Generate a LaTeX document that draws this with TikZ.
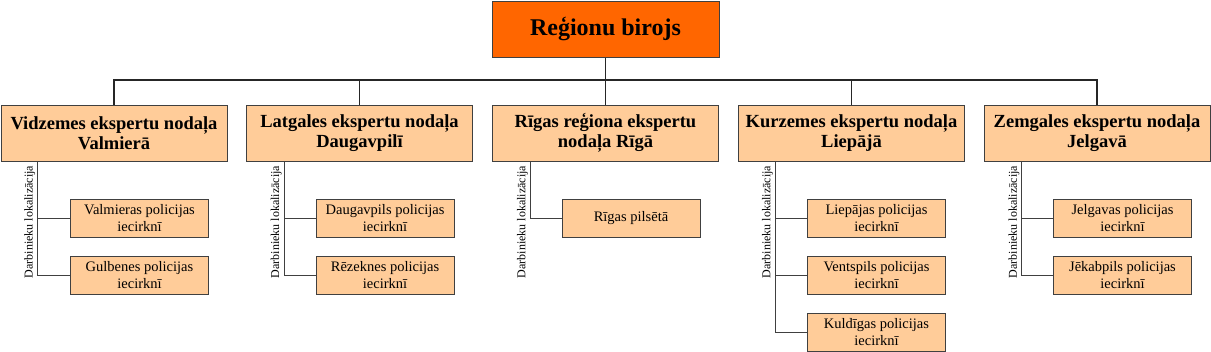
\documentclass[tikz,border=0pt]{standalone}
\usepackage{fontspec}
\setmainfont{Liberation Serif}
\usetikzlibrary{positioning}

\begin{document}
\begin{tikzpicture}[x=1pt, y=-1pt]
  \definecolor{biroFill}{RGB}{255,102,0}
  \definecolor{nodFill}{RGB}{255,204,153}
  \colorlet{edge}{black!75}
  \tikzset{
    biroBox/.style={draw=edge, line width=1pt, fill=biroFill, minimum width=227pt,
      minimum height=56pt, inner sep=0pt, font=\fontsize{24}{28}\selectfont\bfseries},
    nodBox/.style={draw=edge, line width=1pt, fill=nodFill, minimum width=226pt,
      minimum height=56pt, inner sep=0pt, align=center,
      font=\fontsize{18.5}{20.5}\selectfont\bfseries},
    iecBox/.style={draw=edge, line width=0.9pt, fill=nodFill, minimum width=138pt,
      minimum height=38pt, inner sep=0pt, align=center,
      font=\fontsize{14.5}{17.5}\selectfont},
    lokal/.style={rotate=90, anchor=south, inner sep=0.5pt,
      font=\fontsize{12}{14}\selectfont},
    bus/.style={line width=1.5pt, black!85},
    link/.style={line width=0.9pt, edge},
  }
  \useasboundingbox (0,0) rectangle (1211,351);
  \def\lokTxt{Darbinieku lokalizācija}

  %--- Top ---
  \node[biroBox] (biro) at (605.5,29) {Reģionu birojs};
  \coordinate (bus) at (0,80);

  %--- Regional departments ---
  \node[nodBox] (vidz) at (114,133)   {Vidzemes ekspertu nodaļa\\Valmierā};
  \node[nodBox] (latg) at (359.5,133) {Latgales ekspertu nodaļa\\Daugavpilī};
  \node[nodBox] (riga) at (605.5,133) {Rīgas reģiona ekspertu\\nodaļa Rīgā};
  \node[nodBox] (kurz) at (851.5,133) {Kurzemes ekspertu nodaļa\\Liepājā};
  \node[nodBox] (zemg) at (1097,133)  {Zemgales ekspertu nodaļa\\Jelgavā};

  %--- Bus ---
  \draw[bus] (biro.south) -- (biro.south |- bus);
  \draw[bus] (vidz.north) |- (zemg.north |- bus) -- (zemg.north);
  \foreach \d in {latg,riga,kurz} { \draw[bus] (\d.north) -- (\d.north |- bus); }

  %--- Vidzemes ---
  \coordinate (vidzL) at ([xshift=37pt]vidz.south west);
  \node[iecBox] (valm) at (139.5,218) {Valmieras policijas\\iecirknī};
  \node[iecBox] (gulb) at (139.5,275) {Gulbenes policijas\\iecirknī};
  \draw[link] (vidzL) |- (gulb.west);
  \draw[link] (valm.west) -- (valm.west -| vidzL);
  \node[lokal] (vidzLok) at ([xshift=-1.5pt]vidzL |- 0,222) {\lokTxt};

  %--- Latgales ---
  \coordinate (latgL) at ([xshift=38pt]latg.south west);
  \node[iecBox] (dpil) at (385,218) {Daugavpils policijas\\iecirknī};
  \node[iecBox] (reze) at (385,275) {Rēzeknes policijas\\iecirknī};
  \draw[link] (latgL) |- (reze.west);
  \draw[link] (dpil.west) -- (dpil.west -| latgL);
  \node[lokal] (latgLok) at ([xshift=-1.5pt]latgL |- 0,222) {\lokTxt};

  %--- Rīgas ---
  \coordinate (rigaL) at ([xshift=38pt]riga.south west);
  \node[iecBox] (rpil) at (631,218) {Rīgas pilsētā};
  \draw[link] (rigaL) |- (rpil.west);
  \node[lokal] (rigaLok) at ([xshift=-1.5pt]rigaL |- 0,222) {\lokTxt};

  %--- Kurzemes ---
  \coordinate (kurzL) at ([xshift=37pt]kurz.south west);
  \node[iecBox] (liep) at (876.5,218) {Liepājas policijas\\iecirknī};
  \node[iecBox] (vent) at (876.5,275) {Ventspils policijas\\iecirknī};
  \node[iecBox] (kuld) at (876.5,332) {Kuldīgas policijas\\iecirknī};
  \draw[link] (kurzL) |- (kuld.west);
  \foreach \c in {liep,vent} { \draw[link] (\c.west) -- (\c.west -| kurzL); }
  \node[lokal] (kurzLok) at ([xshift=-1.5pt]kurzL |- 0,222) {\lokTxt};

  %--- Zemgales ---
  \coordinate (zemgL) at ([xshift=38pt]zemg.south west);
  \node[iecBox] (jelg) at (1122.5,218) {Jelgavas policijas\\iecirknī};
  \node[iecBox] (jeka) at (1122.5,275) {Jēkabpils policijas\\iecirknī};
  \draw[link] (zemgL) |- (jeka.west);
  \draw[link] (jelg.west) -- (jelg.west -| zemgL);
  \node[lokal] (zemgLok) at ([xshift=-1.5pt]zemgL |- 0,222) {\lokTxt};

\end{tikzpicture}
\end{document}
